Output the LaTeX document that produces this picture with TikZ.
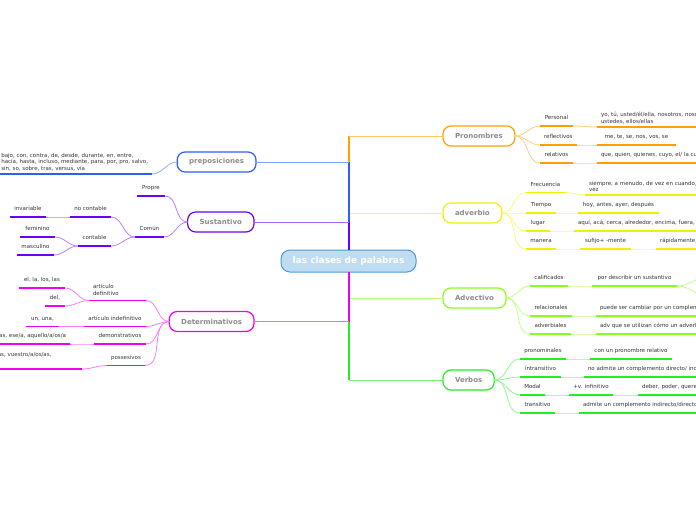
\documentclass[tikz,border=0pt]{standalone}
\usepackage{fontspec}
\setmainfont{DejaVu Sans}
\usepackage{xcolor}
\usepackage{tikz}
\definecolor{cOr}{HTML}{FFA000}
\definecolor{cYe}{HTML}{F0F000}
\definecolor{cLg}{HTML}{88FF1A}
\definecolor{cVg}{HTML}{22EE22}
\definecolor{cBl}{HTML}{2F5BFF}
\definecolor{cPu}{HTML}{6A00FF}
\definecolor{cMa}{HTML}{F000F0}
\definecolor{cCf}{HTML}{BFDCF1}
\definecolor{cCb}{HTML}{4C9AD6}
\newcommand{\sm}{\fontsize{5.5}{6.5}\selectfont}
\newcommand{\bg}{\fontsize{7}{8}\selectfont\bfseries}

\begin{document}
\begin{tikzpicture}[x=1pt, y=-1pt, every node/.style={inner sep=0pt, outer sep=0pt},
  topic/.style={draw=#1, line width=1.2pt, fill=white, rounded corners=8pt, minimum height=20pt, inner xsep=12pt, font=\bg, text=black!45},
  lfbase/.style={inner xsep=4pt, inner ysep=5pt, font=\sm, text=black!80},
  leaf/.style={lfbase, text depth=1.5pt, anchor=south west},
  leafl/.style={leaf, anchor=south east},
  mleaf/.style={lfbase, inner ysep=3pt, align=left, anchor=south west},
  mleafl/.style={mleaf, anchor=south east},
  ul/.style={draw=#1, line width=1.8pt},
  cn/.style={draw=#1, line width=0.8pt},
  trunk/.style={draw=#1, line width=2pt},
  link/.style={draw=#1, line width=1pt}]
\useasboundingbox (0,0) rectangle (696,520);
\clip (0,0) rectangle (696,520);
% ---- centre and main topics
\node[draw=cCb, line width=1pt, fill=cCf, rounded corners=9pt, minimum width=135pt, minimum height=22pt,
  font=\fontsize{9}{10}\selectfont\bfseries, text=white] (cn) at (348.5,261) {las clases de palabras};
\node[topic=cOr, anchor=west] (pron) at (443,136) {Pronombres};
\node[topic=cYe, anchor=west] (adv) at (443,213) {adverbio};
\node[topic=cLg, anchor=west] (adj) at (443,298) {Advectivo};
\node[topic=cVg, anchor=west] (verb) at (443,380) {Verbos};
\node[topic=cBl, anchor=east] (prep) at (256,162) {preposiciones};
\node[topic=cPu, anchor=east] (sus) at (254,222) {Sustantivo};
\node[topic=cMa, anchor=east] (det) at (254,321.5) {Determinativos};
% trunk, drawn outer branches first
\foreach \b/\c/\s in {pron/cOr/north, adv/cYe/north, prep/cBl/north, sus/cPu/north,
                      verb/cVg/south, adj/cLg/south, det/cMa/south} {
  \draw[trunk=\c] (cn.\s) -- (cn.\s |- \b);
  \draw[link=\c!60] (cn.\s |- \b) -- (\b);
}
% ================= Pronombres
\node[leaf, minimum width=33pt] (per) at (540,126) {Personal};
\node[mleaf, text width=150pt] (pyo) at (597,127) {yo, tú, usted/él/ella, nosotros, nosotras,\\ustedes, ellos/ellas};
\node[leaf, minimum width=33pt] (refl) at (540,145) {reflectivos};
\node[leaf, minimum width=79pt] (rme) at (597,145) {me, te, se, nos, vos, se};
\node[leaf, minimum width=33pt] (rel) at (540,163) {relativos};
\node[leaf] (rqu) at (597,163) {que, quien, quienes, cuyo, el/ la cual};
\draw[cn=cOr!50] (pron.east) to[out=0,in=180] (per.south west);
\draw[cn=cOr!50] (pron.east) to[out=0,in=180] (refl.south west);
\draw[cn=cOr!50] (pron.east) to[out=0,in=180] (rel.south west);
\draw[cn=cOr!50] (per.south east) to[out=0,in=180] (pyo.south west);
\draw[cn=cOr!50] (refl.south east) to[out=0,in=180] (rme.south west);
\draw[cn=cOr!50] (rel.south east) to[out=0,in=180] (rqu.south west);
\foreach \n in {per,pyo,refl,rme,rel,rqu} \draw[ul=cOr] (\n.south west) -- (\n.south east);
% ================= adverbio
\node[leaf, minimum width=39pt] (fre) at (526,192.5) {Frecuencia};
\node[mleaf, text width=150pt] (fsi) at (585,195) {siempre, a menudo, de vez en cuando, alguna\\vez};
\node[leaf, minimum width=30pt] (tie) at (526,213) {Tiempo};
\node[leaf, minimum width=81pt] (hoy) at (578,213) {hoy, antes, ayer, después};
\node[leaf, minimum width=24pt] (lug) at (526,231) {lugar};
\node[leaf] (aqu) at (574,231) {aquí, acá, cerca, alrededor, encima, fuera, dentro};
\node[leaf, minimum width=30pt] (man) at (526,249) {manera};
\node[leaf, minimum width=51pt] (suf) at (580,249) {sufijo+ -mente};
\node[leaf] (rap) at (656,249) {rápidamente, fácilmente};
\draw[cn=cYe!50] (adv.east) to[out=0,in=180] (fre.south west);
\draw[cn=cYe!50] (adv.east) to[out=0,in=180] (tie.south west);
\draw[cn=cYe!50] (adv.east) to[out=0,in=180] (lug.south west);
\draw[cn=cYe!50] (adv.east) to[out=0,in=180] (man.south west);
\draw[cn=cYe!50] (fre.south east) to[out=0,in=180] (fsi.south west);
\draw[cn=cYe!50] (tie.south east) to[out=0,in=180] (hoy.south west);
\draw[cn=cYe!50] (lug.south east) to[out=0,in=180] (aqu.south west);
\draw[cn=cYe!50] (man.south east) to[out=0,in=180] (suf.south west);
\draw[cn=cYe!50] (suf.south east) to[out=0,in=180] (rap.south west);
\foreach \n in {fre,fsi,tie,hoy,lug,aqu,man,suf,rap} \draw[ul=cYe] (\n.south west) -- (\n.south east);
% ================= Advectivo
\node[leaf, minimum width=38pt] (cal) at (530,286) {calificados};
\node[leaf, minimum width=85pt] (cdes) at (592,286) {por describir un sustantivo};
\coordinate (calA) at (712,275);
\coordinate (calB) at (712,298);
\node[leaf, minimum width=42pt] (rln) at (530,316) {relacionales};
\node[leaf] (rpu) at (596,316) {puede ser cambiar por un complemento};
\node[leaf, minimum width=41pt] (avb) at (530,334) {adverbiales};
\node[leaf] (aut) at (596,334) {adv que se utilizan cómo un adverbio};
\draw[cn=cLg!50] (adj.east) to[out=0,in=180] (cal.south west);
\draw[cn=cLg!50] (adj.east) to[out=0,in=180] (rln.south west);
\draw[cn=cLg!50] (adj.east) to[out=0,in=180] (avb.south west);
\draw[cn=cLg!50] (cal.south east) to[out=0,in=180] (cdes.south west);
\draw[cn=cLg!50] (cdes.south east) to[out=0,in=180] (calA);
\draw[cn=cLg!50] (cdes.south east) to[out=0,in=180] (calB);
\draw[cn=cLg!50] (rln.south east) to[out=0,in=180] (rpu.south west);
\draw[cn=cLg!50] (avb.south east) to[out=0,in=180] (aut.south west);
\foreach \n in {cal,cdes,rln,rpu,avb,aut} \draw[ul=cLg] (\n.south west) -- (\n.south east);
% ================= Verbos
\node[leaf, minimum width=46pt] (pnm) at (520,359) {pronominales};
\node[leaf, minimum width=82pt] (pcr) at (590,359) {con un pronombre relativo};
\node[leaf, minimum width=41pt] (itr) at (520,377) {intransitivo};
\node[leaf] (ina) at (584,377) {no admite un complemento directo/ indirecto};
\node[leaf, minimum width=25pt] (mdl) at (520,395) {Modal};
\node[leaf, minimum width=44pt] (inf) at (569,395) {+v. infinitivo};
\node[leaf] (deb) at (638,395) {deber, poder, querer};
\node[leaf, minimum width=35pt] (trn) at (520,413) {transitivo};
\node[leaf] (tad) at (579,413) {admite un complemento indirecto/directo};
\draw[cn=cVg!50] (verb.east) to[out=0,in=180] (pnm.south west);
\draw[cn=cVg!50] (verb.east) to[out=0,in=180] (itr.south west);
\draw[cn=cVg!50] (verb.east) to[out=0,in=180] (mdl.south west);
\draw[cn=cVg!50] (verb.east) to[out=0,in=180] (trn.south west);
\draw[cn=cVg!50] (pnm.south east) to[out=0,in=180] (pcr.south west);
\draw[cn=cVg!50] (itr.south east) to[out=0,in=180] (ina.south west);
\draw[cn=cVg!50] (mdl.south east) to[out=0,in=180] (inf.south west);
\draw[cn=cVg!50] (inf.south east) to[out=0,in=180] (deb.south west);
\draw[cn=cVg!50] (trn.south east) to[out=0,in=180] (tad.south west);
\foreach \n in {pnm,pcr,itr,ina,mdl,inf,deb,trn,tad} \draw[ul=cVg] (\n.south west) -- (\n.south east);
% ================= preposiciones
\node[mleafl] (plist) at (152,174) {bajo, con, contra, de, desde, durante, en, entre,\\hacia, hasta, incluso, mediante, para, por, pro, salvo,\\sin, so, sobre, tras, versus, vía};
\draw[cn=cBl!50] (prep.west) to[out=180,in=0] (plist.south east);
\draw[ul=cBl] (plist.south west) -- (plist.south east);
% ================= Sustantivo
\node[leafl, minimum width=28pt] (prop) at (165,196) {Propre};
\node[leafl, minimum width=29pt] (comn) at (164,237) {Común};
\node[leafl, minimum width=41pt] (ncon) at (111,217) {no contable};
\node[leafl, minimum width=36pt] (inv) at (46,217) {invariable};
\node[leafl, minimum width=33pt] (cont) at (111,246) {contable};
\node[leafl, minimum width=35pt] (fem) at (55,237) {feminino};
\node[leafl, minimum width=37pt] (masc) at (54,255) {masculino};
\draw[cn=cPu!50] (sus.west) to[out=180,in=0] (prop.south east);
\draw[cn=cPu!50] (sus.west) to[out=180,in=0] (comn.south east);
\draw[cn=cPu!50] (comn.south west) to[out=180,in=0] (ncon.south east);
\draw[cn=cPu!50] (comn.south west) to[out=180,in=0] (cont.south east);
\draw[cn=cPu!50] (ncon.south west) to[out=180,in=0] (inv.south east);
\draw[cn=cPu!50] (cont.south west) to[out=180,in=0] (fem.south east);
\draw[cn=cPu!50] (cont.south west) to[out=180,in=0] (masc.south east);
\foreach \n in {prop,comn,ncon,inv,cont,fem,masc} \draw[ul=cPu] (\n.south west) -- (\n.south east);
% ================= Determinativos
\node[mleafl, text width=49pt, inner ysep=5pt] (adef) at (146,300.5) {artículo\\definitivo};
\node[leafl, minimum width=46pt] (ella) at (65,288) {el, la, los, las};
\node[leafl, minimum width=20pt] (del) at (65,306) {del,};
\node[leafl, minimum width=62pt] (aind) at (146,326.5) {artículo indefinitivo};
\node[leafl, minimum width=33pt] (una) at (59,326.5) {un, una,};
\node[leafl, minimum width=52pt] (dem) at (146,344) {demonstrativos};
\node[leafl] (este) at (70,344) {este/a/os/as, ese/a, aquello/a/os/a};
\node[leafl, minimum width=38pt] (poss) at (145,365.5) {possesivos};
\node[mleafl, text width=160pt, inner ysep=5pt] (mis) at (82,369) {mi/s, tu/s, su/s, nuestro/a/os/as, vuestro/a/os/as,\\suyo/a/os/as};
\draw[cn=cMa!50] (det.west) to[out=180,in=0] (adef.south east);
\draw[cn=cMa!50] (det.west) to[out=180,in=0] (aind.south east);
\draw[cn=cMa!50] (det.west) to[out=180,in=0] (dem.south east);
\draw[cn=cMa!50] (det.west) to[out=180,in=0] (poss.south east);
\draw[cn=cMa!50] (adef.south west) to[out=180,in=0] (ella.south east);
\draw[cn=cMa!50] (adef.south west) to[out=180,in=0] (del.south east);
\draw[cn=cMa!50] (aind.south west) to[out=180,in=0] (una.south east);
\draw[cn=cMa!50] (dem.south west) to[out=180,in=0] (este.south east);
\draw[cn=cMa!50] (poss.south west) to[out=180,in=0] (mis.south east);
\foreach \n in {adef,ella,del,aind,una,dem,este,poss,mis} \draw[ul=cMa] (\n.south west) -- (\n.south east);
\end{tikzpicture}
\end{document}
